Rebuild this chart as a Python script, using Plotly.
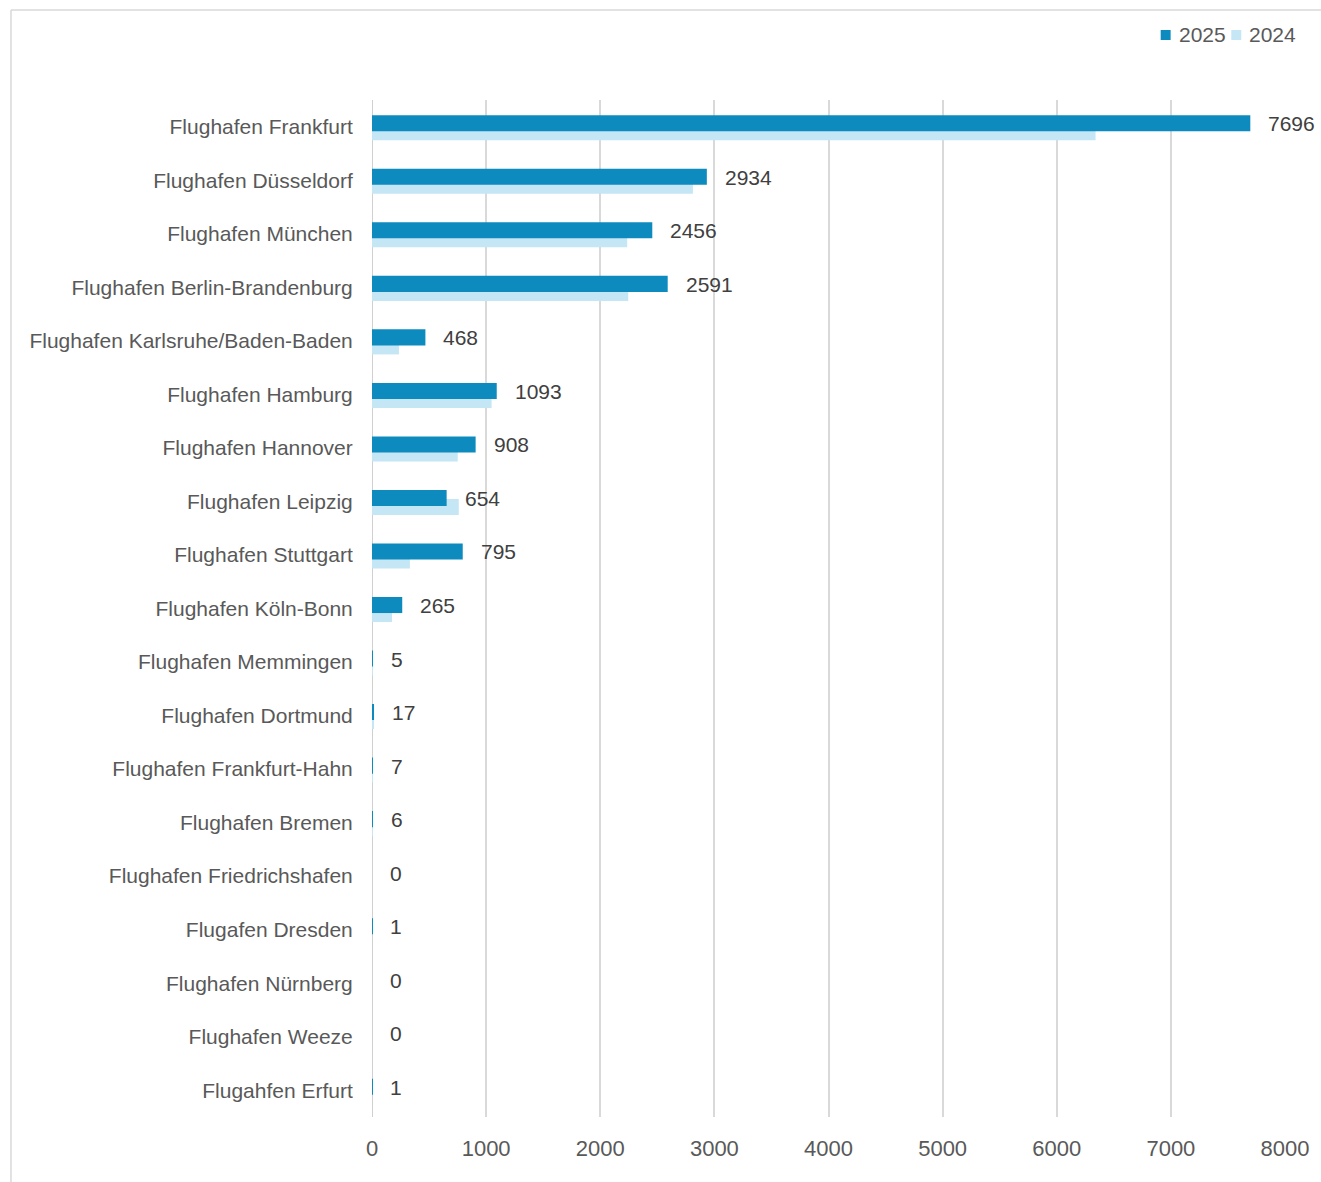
import plotly.graph_objects as go

airports = [
    "Flughafen Frankfurt", "Flughafen Düsseldorf", "Flughafen München",
    "Flughafen Berlin-Brandenburg", "Flughafen Karlsruhe/Baden-Baden",
    "Flughafen Hamburg", "Flughafen Hannover", "Flughafen Leipzig",
    "Flughafen Stuttgart", "Flughafen Köln-Bonn", "Flughafen Memmingen",
    "Flughafen Dortmund", "Flughafen Frankfurt-Hahn", "Flughafen Bremen",
    "Flughafen Friedrichshafen", "Flugafen Dresden", "Flughafen Nürnberg",
    "Flughafen Weeze", "Flugahfen Erfurt",
]
values_2025 = [7696, 2934, 2456, 2591, 468, 1093, 908, 654, 795, 265, 5, 17, 7, 6, 0, 1, 0, 0, 1]
values_2024 = [6340, 2812, 2236, 2245, 236, 1048, 751, 760, 332, 175, 8, 10, 2, 1, 0, 0, 0, 0, 0]
x_ticks = [0, 1000, 2000, 3000, 4000, 5000, 6000, 7000, 8000]
series_names = ["2025", "2024"]

C2025 = "#0E8BBE"
C2024 = "#C4E6F5"
FONT = "Liberation Sans, Arial, sans-serif"
TXT = "#595959"

L, R, T, B = 372, 31, 100, 65
W, H = 1321, 1182
pw, ph = W - L - R, H - T - B


def px_x(p):
    return (p - L) / pw


def px_y(p):
    return (H - B - p) / ph


fig = go.Figure()
fig.add_trace(go.Bar(
    name=series_names[1], y=airports, x=values_2024, orientation="h",
    marker=dict(color=C2024, line=dict(width=0)),
    width=0.3, offset=-0.047, showlegend=False,
))
fig.add_trace(go.Bar(
    name=series_names[0], y=airports, x=values_2025, orientation="h",
    marker=dict(color=C2025, line=dict(width=0)),
    width=0.3, offset=-0.215, showlegend=False,
))

for a, v in zip(airports, values_2025):
    fig.add_annotation(
        x=v, y=a, text=str(v), showarrow=False, xanchor="left",
        xshift=16, yshift=3, font=dict(family=FONT, size=21, color="#404040"),
    )

# legend (top right): small squares with labels
legend_items = [(series_names[0], C2025, 1165), (series_names[1], C2024, 1236)]
for name, col, xp in legend_items:
    fig.add_shape(type="rect", xref="paper", yref="paper",
                  x0=px_x(xp), x1=px_x(xp + 10), y0=px_y(40), y1=px_y(30),
                  fillcolor=col, line=dict(width=0))
    fig.add_annotation(xref="paper", yref="paper", x=px_x(xp + 16), y=px_y(35),
                       text=name, showarrow=False, xanchor="left", yanchor="middle",
                       font=dict(family=FONT, size=21, color=TXT))

# outer chart frame (left and top edges)
fig.add_shape(type="line", xref="paper", yref="paper",
              x0=px_x(9), x1=px_x(1330), y0=px_y(10), y1=px_y(10),
              line=dict(color="#D9D9D9", width=1.5))
fig.add_shape(type="line", xref="paper", yref="paper",
              x0=px_x(9), x1=px_x(9), y0=px_y(10), y1=px_y(1190),
              line=dict(color="#D9D9D9", width=1.5))

fig.update_layout(
    width=W, height=H,
    margin=dict(l=L, r=R, t=T, b=B),
    barmode="overlay",
    plot_bgcolor="white", paper_bgcolor="white",
    font=dict(family=FONT, size=21, color=TXT),
    showlegend=False,
    xaxis=dict(range=[0, 8000], tickvals=x_ticks, showgrid=True, gridcolor="#D9D9D9",
               gridwidth=2, zeroline=False, showline=False,
               ticks="outside", ticklen=12, tickcolor="rgba(0,0,0,0)",
               tickfont=dict(size=22, color=TXT)),
    yaxis=dict(autorange="reversed", showgrid=False, zeroline=False,
               showline=False, ticks="outside", ticklen=14, tickcolor="rgba(0,0,0,0)",
               tickfont=dict(size=21, color=TXT)),
)
fig.add_shape(type="line", xref="x", yref="paper", x0=0, x1=0, y0=0, y1=1,
              line=dict(color="#D0D0D0", width=2), layer="below")

fig.write_html("out.html", post_script="document.body.style.margin='0';",
               config={"displayModeBar": False})
